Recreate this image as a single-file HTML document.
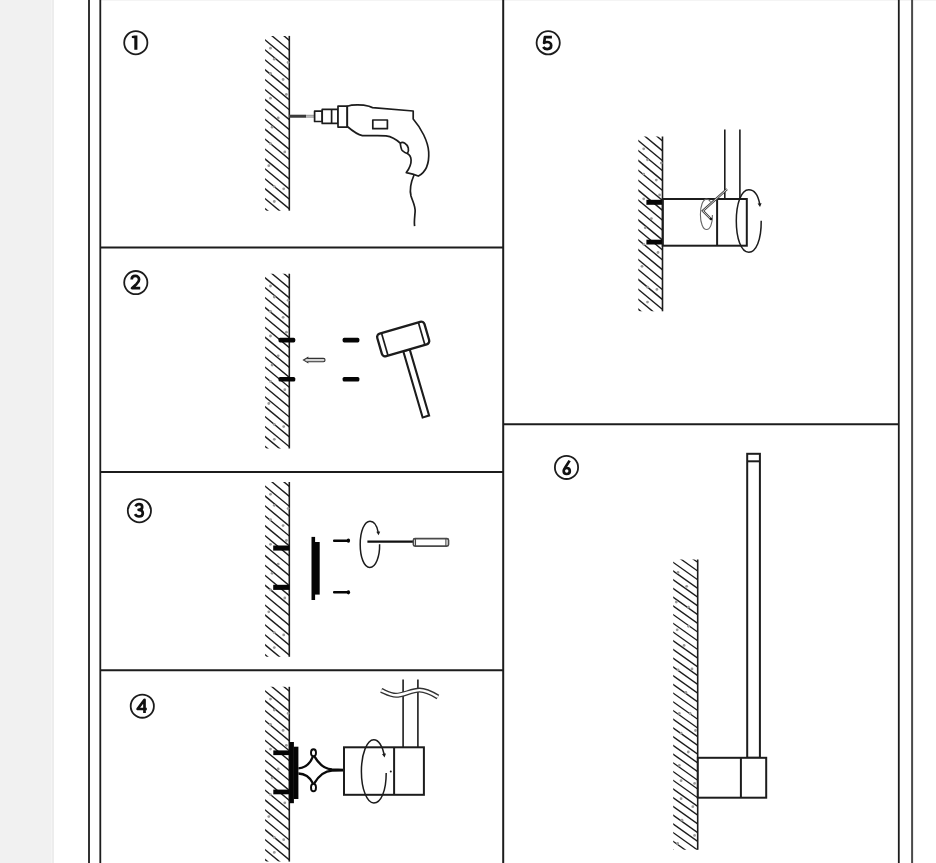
<!DOCTYPE html><html><head><meta charset="utf-8"><style>html,body{margin:0;padding:0;background:#fff;width:936px;height:863px;overflow:hidden}svg{position:absolute;left:0;top:0}</style></head><body>
<svg width="936" height="863" viewBox="0 0 936 863">
<rect x="0" y="0" width="936" height="863" fill="#fff"/>
<rect x="0" y="0" width="54" height="863" fill="#f1f1f1"/>
<rect x="51" y="0" width="1" height="863" fill="#f5f5f5"/>
<rect x="52" y="0" width="2" height="863" fill="#ededed"/>
<rect x="101" y="0" width="835" height="1" fill="#f4f4f4"/>
<g stroke="#1c1c1c" stroke-width="2" fill="none">
<line x1="89" y1="0" x2="89" y2="863" stroke="#333"/>
<line x1="100.3" y1="0" x2="100.3" y2="863" stroke-width="1.8"/>
<line x1="503.2" y1="0" x2="503.2" y2="863"/>
<line x1="898.8" y1="0" x2="898.8" y2="863" stroke-width="1.8"/>
<line x1="912.1" y1="0" x2="912.1" y2="863" stroke="#4a4a4a"/>
<line x1="100" y1="247.6" x2="503" y2="247.6"/>
<line x1="100" y1="471.9" x2="503" y2="471.9"/>
<line x1="100" y1="670.2" x2="503" y2="670.2"/>
<line x1="503" y1="424.2" x2="899" y2="424.2"/>
</g>
<circle cx="135.8" cy="42.7" r="11.6" fill="none" stroke="#1c1c1c" stroke-width="1.8"/>
<path d="M134.4,35.4 H137.4 V49.8 H134.3 V38.3 L131.9,38.1 L131.8,36 Z" fill="#111"/>
<circle cx="135.8" cy="282.6" r="11.6" fill="none" stroke="#1c1c1c" stroke-width="1.8"/>
<path d="M131.7,279.6 C131.7,277.1 133.4,275.9 135.3,275.9 C137.5,275.9 139.1,277.4 139.1,279.4 C139.1,281.1 138.2,282.3 136.6,283.9 L132,288.2 H140.2" fill="none" stroke="#111" stroke-width="2.7" stroke-linecap="butt" stroke-linejoin="round"/>
<circle cx="139.4" cy="510.7" r="11.6" fill="none" stroke="#1c1c1c" stroke-width="1.8"/>
<path d="M135.5,506.4 C136.2,505 137.5,504.2 139,504.2 C140.9,504.2 142.2,505.4 142.2,507 C142.2,508.7 140.9,509.8 138.6,509.8 C141.2,509.8 142.8,511.2 142.8,513.2 C142.8,515.3 141.1,516.5 139,516.5 C137.2,516.5 135.8,515.6 135,514.2" fill="none" stroke="#111" stroke-width="2.7" stroke-linecap="butt" stroke-linejoin="round"/>
<circle cx="142.3" cy="706.15" r="11.6" fill="none" stroke="#1c1c1c" stroke-width="1.8"/>
<path d="M144.5,713.1 V699.8 L137.6,709 H146.8" fill="none" stroke="#111" stroke-width="2.7" stroke-linecap="butt" stroke-linejoin="round"/>
<circle cx="548.2" cy="42.8" r="11.6" fill="none" stroke="#1c1c1c" stroke-width="1.8"/>
<path d="M551.9,37.1 H544.9 L544.1,43 C545,42.3 546,42 547.2,42 C549.5,42 551.2,43.5 551.2,45.6 C551.2,47.7 549.5,49.1 547.2,49.1 C545.4,49.1 544,48.3 543.2,47" fill="none" stroke="#111" stroke-width="2.7" stroke-linecap="butt" stroke-linejoin="round"/>
<circle cx="566.5" cy="467.4" r="11.6" fill="none" stroke="#1c1c1c" stroke-width="1.8"/>
<path d="M569.6,460.6 L564.6,468.5 C564,469.4 563.7,470.2 563.7,471 C563.7,472.8 565,474 566.7,474 C568.5,474 569.8,472.8 569.8,471 C569.8,469.2 568.5,468 566.7,468 C565.7,468 565,468.4 564.4,469" fill="none" stroke="#111" stroke-width="2.7" stroke-linecap="butt" stroke-linejoin="round"/>
<clipPath id="w1"><rect x="265.1" y="35.9" width="24.19999999999999" height="174.79999999999998"/></clipPath>
<g clip-path="url(#w1)" stroke="#1c1c1c" stroke-width="1.4">
<line x1="263.10" y1="18.54" x2="290.30" y2="41.12"/>
<line x1="263.10" y1="28.46" x2="290.30" y2="51.04"/>
<line x1="263.10" y1="38.38" x2="290.30" y2="60.96"/>
<line x1="263.10" y1="48.30" x2="290.30" y2="70.88"/>
<line x1="263.10" y1="58.22" x2="290.30" y2="80.80"/>
<line x1="263.10" y1="68.14" x2="290.30" y2="90.72"/>
<line x1="263.10" y1="78.06" x2="290.30" y2="100.64"/>
<line x1="263.10" y1="87.98" x2="290.30" y2="110.56"/>
<line x1="263.10" y1="97.90" x2="290.30" y2="120.48"/>
<line x1="263.10" y1="107.82" x2="290.30" y2="130.40"/>
<line x1="263.10" y1="117.74" x2="290.30" y2="140.32"/>
<line x1="263.10" y1="127.66" x2="290.30" y2="150.24"/>
<line x1="263.10" y1="137.58" x2="290.30" y2="160.16"/>
<line x1="263.10" y1="147.50" x2="290.30" y2="170.08"/>
<line x1="263.10" y1="157.42" x2="290.30" y2="180.00"/>
<line x1="263.10" y1="167.34" x2="290.30" y2="189.92"/>
<line x1="263.10" y1="177.26" x2="290.30" y2="199.84"/>
<line x1="263.10" y1="187.18" x2="290.30" y2="209.76"/>
<line x1="263.10" y1="197.10" x2="290.30" y2="219.68"/>
<line x1="263.10" y1="207.02" x2="290.30" y2="229.60"/>
</g>
<line x1="289.3" y1="35.9" x2="289.3" y2="210.7" stroke="#1c1c1c" stroke-width="1.6"/>
<circle cx="270.5" cy="48.2" r="1.4" fill="#9a9a9a"/>
<circle cx="274.3" cy="59.2" r="1.4" fill="#9a9a9a"/>
<circle cx="288.1" cy="62.5" r="1.4" fill="#9a9a9a"/>
<circle cx="270.5" cy="73.5" r="1.4" fill="#9a9a9a"/>
<circle cx="283.1" cy="79.5" r="1.4" fill="#9a9a9a"/>
<circle cx="286.4" cy="94.4" r="1.4" fill="#9a9a9a"/>
<circle cx="270.5" cy="98.2" r="1.4" fill="#9a9a9a"/>
<circle cx="278.2" cy="118.0" r="1.4" fill="#9a9a9a"/>
<circle cx="272.1" cy="127.2" r="1.4" fill="#9a9a9a"/>
<circle cx="270.5" cy="143.7" r="1.4" fill="#9a9a9a"/>
<circle cx="284.8" cy="151.9" r="1.4" fill="#9a9a9a"/>
<circle cx="268.8" cy="165.7" r="1.4" fill="#9a9a9a"/>
<circle cx="274.3" cy="186.6" r="1.4" fill="#9a9a9a"/>
<circle cx="283.7" cy="188.8" r="1.4" fill="#9a9a9a"/>
<circle cx="274.3" cy="201.5" r="1.4" fill="#9a9a9a"/>
<rect x="289.5" y="114.8" width="25.2" height="2.8" fill="#8a8a8a"/>
<rect x="289.5" y="114.8" width="16.5" height="2.8" fill="#3a3a3a"/>
<rect x="306" y="115.6" width="8.7" height="1.2" fill="#c8c8c8"/>
<g stroke="#1c1c1c" stroke-width="1.7" fill="#fff" stroke-linejoin="round">
<rect x="314.6" y="111.2" width="7.6" height="10.3"/>
<rect x="322.2" y="109.4" width="15.8" height="14"/>
<line x1="331.6" y1="109.4" x2="331.6" y2="123.4"/>
<rect x="338" y="106.1" width="9.2" height="21"/>
<path d="M347.3,106.2 C352,104.6 362,104.4 369,106.2 L372.5,107.6 L413.2,111 L413.2,119 C421,128 428,141 428.7,152 C429.3,163 426,172 418.4,176.1 C416,175 413.5,173.8 406.3,172.6 C409.3,168.5 411.3,164 411.1,160 C410.9,156.5 409.5,154.8 407.3,153.6 C404.8,152.5 402.5,151.5 401.6,149.5 C400.8,147.5 400.5,145.5 400.2,143.2 C397.5,140.5 392,136.5 386,135.8 C380,135.2 370,135.8 362.4,135.6 C357,134.5 352,130.5 347.3,126.5 Z"/>
<rect x="372.8" y="120" width="14.6" height="8.7" fill="none"/>
<path d="M400.2,143.2 C403,141.3 407,143.5 408.3,148 C408.8,150 408.3,152 407.3,153.6" fill="none"/>
<path d="M414,175 C411,182 409.5,190 411,196 C412.8,202 415.6,206 415.1,212 C414.6,218 414,222 414.6,226.2" fill="none"/>
</g>
<clipPath id="w2"><rect x="265.1" y="273.7" width="24.19999999999999" height="174.8"/></clipPath>
<g clip-path="url(#w2)" stroke="#1c1c1c" stroke-width="1.4">
<line x1="263.10" y1="256.34" x2="290.30" y2="278.92"/>
<line x1="263.10" y1="266.26" x2="290.30" y2="288.84"/>
<line x1="263.10" y1="276.18" x2="290.30" y2="298.76"/>
<line x1="263.10" y1="286.10" x2="290.30" y2="308.68"/>
<line x1="263.10" y1="296.02" x2="290.30" y2="318.60"/>
<line x1="263.10" y1="305.94" x2="290.30" y2="328.52"/>
<line x1="263.10" y1="315.86" x2="290.30" y2="338.44"/>
<line x1="263.10" y1="325.78" x2="290.30" y2="348.36"/>
<line x1="263.10" y1="335.70" x2="290.30" y2="358.28"/>
<line x1="263.10" y1="345.62" x2="290.30" y2="368.20"/>
<line x1="263.10" y1="355.54" x2="290.30" y2="378.12"/>
<line x1="263.10" y1="365.46" x2="290.30" y2="388.04"/>
<line x1="263.10" y1="375.38" x2="290.30" y2="397.96"/>
<line x1="263.10" y1="385.30" x2="290.30" y2="407.88"/>
<line x1="263.10" y1="395.22" x2="290.30" y2="417.80"/>
<line x1="263.10" y1="405.14" x2="290.30" y2="427.72"/>
<line x1="263.10" y1="415.06" x2="290.30" y2="437.64"/>
<line x1="263.10" y1="424.98" x2="290.30" y2="447.56"/>
<line x1="263.10" y1="434.90" x2="290.30" y2="457.48"/>
<line x1="263.10" y1="444.82" x2="290.30" y2="467.40"/>
</g>
<line x1="289.3" y1="273.7" x2="289.3" y2="448.5" stroke="#1c1c1c" stroke-width="1.6"/>
<circle cx="270.5" cy="286.0" r="1.4" fill="#9a9a9a"/>
<circle cx="274.3" cy="297.0" r="1.4" fill="#9a9a9a"/>
<circle cx="288.1" cy="300.3" r="1.4" fill="#9a9a9a"/>
<circle cx="270.5" cy="311.3" r="1.4" fill="#9a9a9a"/>
<circle cx="283.1" cy="317.3" r="1.4" fill="#9a9a9a"/>
<circle cx="286.4" cy="332.2" r="1.4" fill="#9a9a9a"/>
<circle cx="270.5" cy="336.0" r="1.4" fill="#9a9a9a"/>
<circle cx="278.2" cy="355.8" r="1.4" fill="#9a9a9a"/>
<circle cx="272.1" cy="365.0" r="1.4" fill="#9a9a9a"/>
<circle cx="270.5" cy="381.5" r="1.4" fill="#9a9a9a"/>
<circle cx="284.8" cy="389.7" r="1.4" fill="#9a9a9a"/>
<circle cx="268.8" cy="403.5" r="1.4" fill="#9a9a9a"/>
<circle cx="274.3" cy="424.4" r="1.4" fill="#9a9a9a"/>
<circle cx="283.7" cy="426.6" r="1.4" fill="#9a9a9a"/>
<circle cx="274.3" cy="439.3" r="1.4" fill="#9a9a9a"/>
<g fill="#050505">
<rect x="278.5" y="337.8" width="16.8" height="4.6" rx="1.6"/>
<rect x="278.5" y="376.9" width="16.8" height="4.6" rx="1.6"/>
<rect x="342.6" y="337.8" width="16.8" height="4.6" rx="1.6"/>
<rect x="342.6" y="376.9" width="16.8" height="4.6" rx="1.6"/>
</g>
<path d="M303.5,360 L307.8,357.5 L307.8,358.4 L323.4,358.4 A1.65,1.65 0 0 1 323.4,361.7 L307.8,361.7 L307.8,362.6 Z" fill="#d4d4d4" stroke="#333" stroke-width="1.1"/>
<g transform="translate(403.2,339) rotate(-16.3)" stroke="#1c1c1c" fill="#fff">
<rect x="-3.35" y="11.75" width="6.7" height="69" stroke-width="2.1"/>
<rect x="-24.6" y="-11.75" width="49.2" height="23.5" rx="3.5" stroke-width="2.3"/>
<line x1="-19.2" y1="-11.5" x2="-19.2" y2="11.5" stroke-width="1.7"/>
<line x1="19.2" y1="-11.5" x2="19.2" y2="11.5" stroke-width="1.7"/>
</g>
<clipPath id="w3"><rect x="265.1" y="482.0" width="24.19999999999999" height="174.79999999999995"/></clipPath>
<g clip-path="url(#w3)" stroke="#1c1c1c" stroke-width="1.4">
<line x1="263.10" y1="464.64" x2="290.30" y2="487.22"/>
<line x1="263.10" y1="474.56" x2="290.30" y2="497.14"/>
<line x1="263.10" y1="484.48" x2="290.30" y2="507.06"/>
<line x1="263.10" y1="494.40" x2="290.30" y2="516.98"/>
<line x1="263.10" y1="504.32" x2="290.30" y2="526.90"/>
<line x1="263.10" y1="514.24" x2="290.30" y2="536.82"/>
<line x1="263.10" y1="524.16" x2="290.30" y2="546.74"/>
<line x1="263.10" y1="534.08" x2="290.30" y2="556.66"/>
<line x1="263.10" y1="544.00" x2="290.30" y2="566.58"/>
<line x1="263.10" y1="553.92" x2="290.30" y2="576.50"/>
<line x1="263.10" y1="563.84" x2="290.30" y2="586.42"/>
<line x1="263.10" y1="573.76" x2="290.30" y2="596.34"/>
<line x1="263.10" y1="583.68" x2="290.30" y2="606.26"/>
<line x1="263.10" y1="593.60" x2="290.30" y2="616.18"/>
<line x1="263.10" y1="603.52" x2="290.30" y2="626.10"/>
<line x1="263.10" y1="613.44" x2="290.30" y2="636.02"/>
<line x1="263.10" y1="623.36" x2="290.30" y2="645.94"/>
<line x1="263.10" y1="633.28" x2="290.30" y2="655.86"/>
<line x1="263.10" y1="643.20" x2="290.30" y2="665.78"/>
<line x1="263.10" y1="653.12" x2="290.30" y2="675.70"/>
</g>
<line x1="289.3" y1="482.0" x2="289.3" y2="656.8" stroke="#1c1c1c" stroke-width="1.6"/>
<circle cx="270.5" cy="494.3" r="1.4" fill="#9a9a9a"/>
<circle cx="274.3" cy="505.3" r="1.4" fill="#9a9a9a"/>
<circle cx="288.1" cy="508.6" r="1.4" fill="#9a9a9a"/>
<circle cx="270.5" cy="519.6" r="1.4" fill="#9a9a9a"/>
<circle cx="283.1" cy="525.6" r="1.4" fill="#9a9a9a"/>
<circle cx="286.4" cy="540.5" r="1.4" fill="#9a9a9a"/>
<circle cx="270.5" cy="544.3" r="1.4" fill="#9a9a9a"/>
<circle cx="278.2" cy="564.1" r="1.4" fill="#9a9a9a"/>
<circle cx="272.1" cy="573.3" r="1.4" fill="#9a9a9a"/>
<circle cx="270.5" cy="589.8" r="1.4" fill="#9a9a9a"/>
<circle cx="284.8" cy="598.0" r="1.4" fill="#9a9a9a"/>
<circle cx="268.8" cy="611.8" r="1.4" fill="#9a9a9a"/>
<circle cx="274.3" cy="632.7" r="1.4" fill="#9a9a9a"/>
<circle cx="283.7" cy="634.9" r="1.4" fill="#9a9a9a"/>
<circle cx="274.3" cy="647.6" r="1.4" fill="#9a9a9a"/>
<g fill="#050505">
<rect x="273.2" y="545.5" width="16.2" height="5.1"/>
<rect x="273.2" y="584.8" width="16.2" height="5.1"/>
<rect x="311.5" y="536.9" width="3.6" height="63.1"/>
<rect x="314.9" y="542" width="4.8" height="52.6"/>
<rect x="333" y="539.5" width="15" height="2.5" rx="1"/>
<rect x="333" y="591.1" width="15" height="2.5" rx="1"/>
<ellipse cx="348.4" cy="540.7" rx="1.7" ry="2.1"/>
<ellipse cx="348.4" cy="592.3" rx="1.7" ry="2.1"/>
</g>
<path d="M379.6,544.3 C379.9,556 376,567.4 369.8,567.4 C364,567.4 360.2,557 360.2,544.4 C360.2,531 364.5,521.3 370,521.3 C374,521.3 377,526 378.2,532.3" fill="none" stroke="#1c1c1c" stroke-width="1.5"/>
<path d="M376.3,531.8 L380.2,531.5 L378.6,535.2 Z" fill="#1c1c1c"/>
<line x1="367.4" y1="541.7" x2="413" y2="541.7" stroke="#111" stroke-width="2.3"/>
<rect x="413.4" y="538.6" width="35.1" height="7.6" rx="1.6" fill="#fff" stroke="#4a4a4a" stroke-width="1.7"/>
<line x1="415.5" y1="538.8" x2="415.5" y2="546" stroke="#444" stroke-width="1.1"/>
<line x1="445.9" y1="538.8" x2="445.9" y2="546" stroke="#444" stroke-width="1.1"/>
<clipPath id="w4"><rect x="265.1" y="686.8" width="24.19999999999999" height="174.79999999999995"/></clipPath>
<g clip-path="url(#w4)" stroke="#1c1c1c" stroke-width="1.4">
<line x1="263.10" y1="669.44" x2="290.30" y2="692.02"/>
<line x1="263.10" y1="679.36" x2="290.30" y2="701.94"/>
<line x1="263.10" y1="689.28" x2="290.30" y2="711.86"/>
<line x1="263.10" y1="699.20" x2="290.30" y2="721.78"/>
<line x1="263.10" y1="709.12" x2="290.30" y2="731.70"/>
<line x1="263.10" y1="719.04" x2="290.30" y2="741.62"/>
<line x1="263.10" y1="728.96" x2="290.30" y2="751.54"/>
<line x1="263.10" y1="738.88" x2="290.30" y2="761.46"/>
<line x1="263.10" y1="748.80" x2="290.30" y2="771.38"/>
<line x1="263.10" y1="758.72" x2="290.30" y2="781.30"/>
<line x1="263.10" y1="768.64" x2="290.30" y2="791.22"/>
<line x1="263.10" y1="778.56" x2="290.30" y2="801.14"/>
<line x1="263.10" y1="788.48" x2="290.30" y2="811.06"/>
<line x1="263.10" y1="798.40" x2="290.30" y2="820.98"/>
<line x1="263.10" y1="808.32" x2="290.30" y2="830.90"/>
<line x1="263.10" y1="818.24" x2="290.30" y2="840.82"/>
<line x1="263.10" y1="828.16" x2="290.30" y2="850.74"/>
<line x1="263.10" y1="838.08" x2="290.30" y2="860.66"/>
<line x1="263.10" y1="848.00" x2="290.30" y2="870.58"/>
<line x1="263.10" y1="857.92" x2="290.30" y2="880.50"/>
</g>
<line x1="289.3" y1="686.8" x2="289.3" y2="861.5999999999999" stroke="#1c1c1c" stroke-width="1.6"/>
<circle cx="270.5" cy="699.1" r="1.4" fill="#9a9a9a"/>
<circle cx="274.3" cy="710.1" r="1.4" fill="#9a9a9a"/>
<circle cx="288.1" cy="713.4" r="1.4" fill="#9a9a9a"/>
<circle cx="270.5" cy="724.4" r="1.4" fill="#9a9a9a"/>
<circle cx="283.1" cy="730.4" r="1.4" fill="#9a9a9a"/>
<circle cx="286.4" cy="745.3" r="1.4" fill="#9a9a9a"/>
<circle cx="270.5" cy="749.1" r="1.4" fill="#9a9a9a"/>
<circle cx="278.2" cy="768.9" r="1.4" fill="#9a9a9a"/>
<circle cx="272.1" cy="778.1" r="1.4" fill="#9a9a9a"/>
<circle cx="270.5" cy="794.6" r="1.4" fill="#9a9a9a"/>
<circle cx="284.8" cy="802.8" r="1.4" fill="#9a9a9a"/>
<circle cx="268.8" cy="816.6" r="1.4" fill="#9a9a9a"/>
<circle cx="274.3" cy="837.5" r="1.4" fill="#9a9a9a"/>
<circle cx="283.7" cy="839.7" r="1.4" fill="#9a9a9a"/>
<circle cx="274.3" cy="852.4" r="1.4" fill="#9a9a9a"/>
<g fill="#050505">
<rect x="273.3" y="750.4" width="16" height="4.7"/>
<rect x="273.3" y="789.6" width="16" height="4.7"/>
<rect x="289.3" y="742" width="4.6" height="61.2"/>
<rect x="293.7" y="746.7" width="4.7" height="52.3"/>
</g>
<g stroke="#0a0a0a" stroke-width="2.3" fill="none">
<path d="M298.4,768.3 C303.5,768.1 309.5,765 312.9,756.6"/>
<path d="M314.6,756.6 C318,762.5 323,768.8 332,769.5 L344,769.8"/>
<path d="M298.4,773.5 C303.5,773.6 309.5,776.5 312.9,783.2"/>
<path d="M314.4,783.2 C318,777 324,771 332,770.6 L344,770.3"/>
<ellipse cx="313.5" cy="752.7" rx="2.5" ry="3.5" fill="#fff" stroke-width="1.9"/>
<ellipse cx="313.5" cy="787.5" rx="2.5" ry="3.8" fill="#fff" stroke-width="1.9"/>
</g>
<g stroke="#1c1c1c" stroke-width="2" fill="none">
<rect x="344" y="747.3" width="79.9" height="47.5"/>
<line x1="394.1" y1="747.3" x2="394.1" y2="794.8"/>
<line x1="403.1" y1="679.5" x2="403.1" y2="747.3" stroke-width="1.6"/>
<line x1="417.9" y1="679.5" x2="417.9" y2="747.3" stroke-width="1.6"/>
</g>
<path d="M381.2,690.4 C385.5,692.2 390.5,695.3 396,695.3 C403,695.3 412,690.1 419.5,690.1 C426,690.1 431,692.8 437.9,697" fill="none" stroke="#333" stroke-width="5"/>
<path d="M381.2,690.4 C385.5,692.2 390.5,695.3 396,695.3 C403,695.3 412,690.1 419.5,690.1 C426,690.1 431,692.8 437.9,697" fill="none" stroke="#fff" stroke-width="2.4"/>
<path d="M386.2,773 C386.2,791 381,803 373.8,803 C367,803 361.4,789 361.4,771.4 C361.4,753.5 367,739.8 373.8,739.8 C378.5,739.8 382.5,746 384.2,754.5" fill="none" stroke="#1c1c1c" stroke-width="1.5"/>
<path d="M382,754 L386,753.6 L384.5,757.4 Z" fill="#1c1c1c"/>
<circle cx="390.8" cy="771.4" r="1" fill="#1c1c1c"/>
<clipPath id="w5"><rect x="638.3" y="136.5" width="24.200000000000045" height="174.79999999999995"/></clipPath>
<g clip-path="url(#w5)" stroke="#1c1c1c" stroke-width="1.4">
<line x1="636.30" y1="119.14" x2="663.50" y2="141.72"/>
<line x1="636.30" y1="129.06" x2="663.50" y2="151.64"/>
<line x1="636.30" y1="138.98" x2="663.50" y2="161.56"/>
<line x1="636.30" y1="148.90" x2="663.50" y2="171.48"/>
<line x1="636.30" y1="158.82" x2="663.50" y2="181.40"/>
<line x1="636.30" y1="168.74" x2="663.50" y2="191.32"/>
<line x1="636.30" y1="178.66" x2="663.50" y2="201.24"/>
<line x1="636.30" y1="188.58" x2="663.50" y2="211.16"/>
<line x1="636.30" y1="198.50" x2="663.50" y2="221.08"/>
<line x1="636.30" y1="208.42" x2="663.50" y2="231.00"/>
<line x1="636.30" y1="218.34" x2="663.50" y2="240.92"/>
<line x1="636.30" y1="228.26" x2="663.50" y2="250.84"/>
<line x1="636.30" y1="238.18" x2="663.50" y2="260.76"/>
<line x1="636.30" y1="248.10" x2="663.50" y2="270.68"/>
<line x1="636.30" y1="258.02" x2="663.50" y2="280.60"/>
<line x1="636.30" y1="267.94" x2="663.50" y2="290.52"/>
<line x1="636.30" y1="277.86" x2="663.50" y2="300.44"/>
<line x1="636.30" y1="287.78" x2="663.50" y2="310.36"/>
<line x1="636.30" y1="297.70" x2="663.50" y2="320.28"/>
<line x1="636.30" y1="307.62" x2="663.50" y2="330.20"/>
</g>
<line x1="662.5" y1="136.5" x2="662.5" y2="311.29999999999995" stroke="#1c1c1c" stroke-width="1.6"/>
<circle cx="643.7" cy="148.8" r="1.4" fill="#9a9a9a"/>
<circle cx="647.5" cy="159.8" r="1.4" fill="#9a9a9a"/>
<circle cx="661.3" cy="163.1" r="1.4" fill="#9a9a9a"/>
<circle cx="643.7" cy="174.1" r="1.4" fill="#9a9a9a"/>
<circle cx="656.3" cy="180.1" r="1.4" fill="#9a9a9a"/>
<circle cx="659.6" cy="195.0" r="1.4" fill="#9a9a9a"/>
<circle cx="643.7" cy="198.8" r="1.4" fill="#9a9a9a"/>
<circle cx="651.4" cy="218.6" r="1.4" fill="#9a9a9a"/>
<circle cx="645.3" cy="227.8" r="1.4" fill="#9a9a9a"/>
<circle cx="643.7" cy="244.3" r="1.4" fill="#9a9a9a"/>
<circle cx="658.0" cy="252.5" r="1.4" fill="#9a9a9a"/>
<circle cx="642.0" cy="266.3" r="1.4" fill="#9a9a9a"/>
<circle cx="647.5" cy="287.2" r="1.4" fill="#9a9a9a"/>
<circle cx="656.9" cy="289.4" r="1.4" fill="#9a9a9a"/>
<circle cx="647.5" cy="302.1" r="1.4" fill="#9a9a9a"/>
<g fill="#050505">
<rect x="646.4" y="199.8" width="16.4" height="5"/>
<rect x="646.4" y="239.7" width="16.4" height="4.8"/>
</g>
<g stroke="#1c1c1c" stroke-width="2" fill="none">
<rect x="662.8" y="199" width="84" height="46.7"/>
<line x1="717.1" y1="199" x2="717.1" y2="245.7"/>
<line x1="724.8" y1="129.4" x2="724.8" y2="199.1" stroke-width="1.6"/>
<line x1="739.9" y1="129.4" x2="739.9" y2="199.1" stroke-width="1.6"/>
</g>
<path d="M727,189.2 L702.8,210.9 L710.9,219" fill="none" stroke="#444" stroke-width="2.4" stroke-linejoin="miter"/>
<path d="M727,189.2 L702.8,210.9 L710.9,219" fill="none" stroke="#d8d8d8" stroke-width="0.9" stroke-linejoin="miter"/>
<path d="M712.4,215 C712.6,224 710,229.5 706.6,229.5 C703,229.7 700.4,223 700.4,214.4 C700.4,205.8 703,199.1 706.6,199.1 C708,199.1 709.5,200 710.5,201.8" fill="none" stroke="#666" stroke-width="1.1"/>
<circle cx="711" cy="219" r="1.3" fill="#1c1c1c"/>
<path d="M761.2,220.8 C761.4,240 756,252.2 748.8,252.2 C741,252.2 736.3,238 736.3,221 C736.3,204 741,189.8 748.8,189.8 C754,189.8 758,195 759.7,204" fill="none" stroke="#1c1c1c" stroke-width="1.5"/>
<path d="M757.6,203.5 L761.6,203.2 L760,207 Z" fill="#1c1c1c"/>
<clipPath id="w6"><rect x="673.2" y="559.4" width="24.5" height="290.30000000000007"/></clipPath>
<g clip-path="url(#w6)" stroke="#1c1c1c" stroke-width="1.35">
<line x1="671.20" y1="534.78" x2="698.70" y2="554.31"/>
<line x1="671.20" y1="543.50" x2="698.70" y2="563.03"/>
<line x1="671.20" y1="552.22" x2="698.70" y2="571.75"/>
<line x1="671.20" y1="560.94" x2="698.70" y2="580.47"/>
<line x1="671.20" y1="569.66" x2="698.70" y2="589.19"/>
<line x1="671.20" y1="578.38" x2="698.70" y2="597.91"/>
<line x1="671.20" y1="587.10" x2="698.70" y2="606.63"/>
<line x1="671.20" y1="595.82" x2="698.70" y2="615.35"/>
<line x1="671.20" y1="604.54" x2="698.70" y2="624.07"/>
<line x1="671.20" y1="613.26" x2="698.70" y2="632.79"/>
<line x1="671.20" y1="621.98" x2="698.70" y2="641.51"/>
<line x1="671.20" y1="630.70" x2="698.70" y2="650.23"/>
<line x1="671.20" y1="639.42" x2="698.70" y2="658.95"/>
<line x1="671.20" y1="648.14" x2="698.70" y2="667.67"/>
<line x1="671.20" y1="656.86" x2="698.70" y2="676.39"/>
<line x1="671.20" y1="665.58" x2="698.70" y2="685.11"/>
<line x1="671.20" y1="674.30" x2="698.70" y2="693.83"/>
<line x1="671.20" y1="683.02" x2="698.70" y2="702.55"/>
<line x1="671.20" y1="691.74" x2="698.70" y2="711.27"/>
<line x1="671.20" y1="700.46" x2="698.70" y2="719.99"/>
<line x1="671.20" y1="709.18" x2="698.70" y2="728.71"/>
<line x1="671.20" y1="717.90" x2="698.70" y2="737.43"/>
<line x1="671.20" y1="726.62" x2="698.70" y2="746.15"/>
<line x1="671.20" y1="735.34" x2="698.70" y2="754.87"/>
<line x1="671.20" y1="744.06" x2="698.70" y2="763.59"/>
<line x1="671.20" y1="752.78" x2="698.70" y2="772.31"/>
<line x1="671.20" y1="761.50" x2="698.70" y2="781.03"/>
<line x1="671.20" y1="770.22" x2="698.70" y2="789.75"/>
<line x1="671.20" y1="778.94" x2="698.70" y2="798.47"/>
<line x1="671.20" y1="787.66" x2="698.70" y2="807.19"/>
<line x1="671.20" y1="796.38" x2="698.70" y2="815.91"/>
<line x1="671.20" y1="805.10" x2="698.70" y2="824.63"/>
<line x1="671.20" y1="813.82" x2="698.70" y2="833.35"/>
<line x1="671.20" y1="822.54" x2="698.70" y2="842.07"/>
<line x1="671.20" y1="831.26" x2="698.70" y2="850.79"/>
<line x1="671.20" y1="839.98" x2="698.70" y2="859.51"/>
<line x1="671.20" y1="848.70" x2="698.70" y2="868.23"/>
</g>
<line x1="697.7" y1="559.4" x2="697.7" y2="849.7" stroke="#1c1c1c" stroke-width="1.6"/>
<circle cx="678.0" cy="572.4" r="1.4" fill="#9a9a9a"/>
<circle cx="686.7" cy="586.3" r="1.4" fill="#9a9a9a"/>
<circle cx="676.3" cy="602.0" r="1.4" fill="#9a9a9a"/>
<circle cx="688.5" cy="607.2" r="1.4" fill="#9a9a9a"/>
<circle cx="677.2" cy="629.8" r="1.4" fill="#9a9a9a"/>
<circle cx="688.5" cy="626.3" r="1.4" fill="#9a9a9a"/>
<circle cx="684.1" cy="645.4" r="1.4" fill="#9a9a9a"/>
<circle cx="692.0" cy="668.9" r="1.4" fill="#9a9a9a"/>
<circle cx="678.0" cy="669.8" r="1.4" fill="#9a9a9a"/>
<circle cx="685.9" cy="692.4" r="1.4" fill="#9a9a9a"/>
<circle cx="679.3" cy="713.5" r="1.4" fill="#9a9a9a"/>
<circle cx="690.1" cy="713.5" r="1.4" fill="#9a9a9a"/>
<circle cx="695.5" cy="730.5" r="1.4" fill="#9a9a9a"/>
<circle cx="681.1" cy="733.2" r="1.4" fill="#9a9a9a"/>
<circle cx="688.3" cy="752.0" r="1.4" fill="#9a9a9a"/>
<circle cx="679.3" cy="765.5" r="1.4" fill="#9a9a9a"/>
<circle cx="681.1" cy="780.7" r="1.4" fill="#9a9a9a"/>
<circle cx="694.6" cy="783.4" r="1.4" fill="#9a9a9a"/>
<circle cx="681.1" cy="798.7" r="1.4" fill="#9a9a9a"/>
<circle cx="692.8" cy="806.7" r="1.4" fill="#9a9a9a"/>
<circle cx="682.0" cy="820.2" r="1.4" fill="#9a9a9a"/>
<circle cx="694.6" cy="835.4" r="1.4" fill="#9a9a9a"/>
<circle cx="677.6" cy="843.5" r="1.4" fill="#9a9a9a"/>
<g stroke="#1c1c1c" stroke-width="2" fill="none">
<rect x="747.2" y="453.8" width="12.7" height="304"/>
<line x1="747.2" y1="461.3" x2="759.9" y2="461.3"/>
<rect x="697.8" y="757.8" width="68.4" height="39.9" fill="#fff"/>
<line x1="740.9" y1="757.8" x2="740.9" y2="797.7"/>
</g>
</svg></body></html>
